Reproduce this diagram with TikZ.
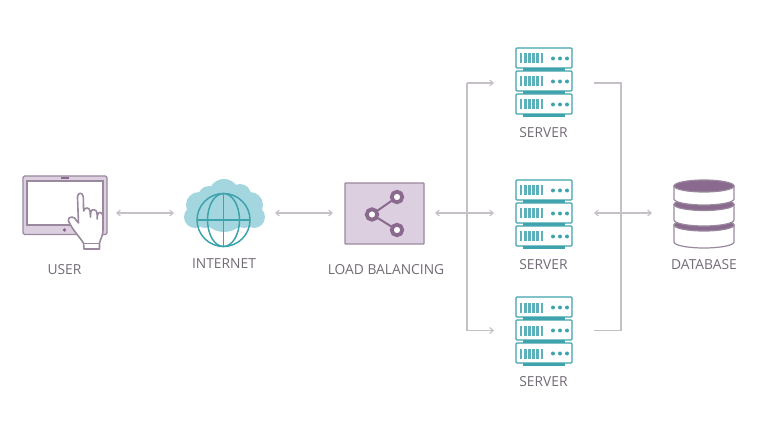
\documentclass[tikz,border=0pt]{standalone}
\usepackage{fontspec}
\setmainfont{Open Sans}
\usetikzlibrary{arrows.meta}
\definecolor{mauve}{HTML}{8A6A8E}
\definecolor{mauvelight}{HTML}{DCCFDF}
\definecolor{mauveline}{HTML}{9A899E}
\definecolor{tealdark}{HTML}{3FA3AE}
\definecolor{teallight}{HTML}{A3D6DE}
\definecolor{wire}{HTML}{C4C0C6}
\definecolor{labelgrey}{HTML}{736B76}
\tikzset{
  x=1pt,y=-1pt,
  caption/.style={font=\fontsize{13.8}{16}\selectfont,text=labelgrey,inner sep=0pt,anchor=center},
  wirepath/.style={draw=wire,line width=1.1pt},
  both/.style={wirepath,{Straight Barb[length=3.5pt,width=6pt]}-{Straight Barb[length=3.5pt,width=6pt]}},
  toward/.style={wirepath,-{Straight Barb[length=3.5pt,width=6pt]}},
  rack/.style={draw=tealdark,line width=1.3pt,rounded corners=1pt,fill=white},
  rackbar/.style={fill=tealdark,draw=none},
  disk/.style={draw=mauveline,line width=1.2pt,fill=white},
  diskcap/.style={draw=mauveline,line width=1.2pt,fill=mauve},
  hub/.style={circle,draw=mauve,line width=3.8pt,fill=white,minimum size=10.5pt,inner sep=0pt},
  pics/serverunit/.style={code={
    \draw[rack] (0,0) rectangle (56,20);
    \fill[rackbar] (7,20) rectangle (49,23);
    \foreach \sx in {3.5,7.7,11.9,16.1,20.3,24.5}
      \fill[tealdark!85] (\sx,5.5) rectangle ++(2.8,10);
    \foreach \dx in {37,44,51}
      \fill[tealdark] (\dx,10.5) circle (2);
  }},
  pics/serverstack/.style={code={
    \pic at (0,0) {serverunit};
    \pic at (0,23) {serverunit};
    \pic at (0,46) {serverunit};
  }},
  pics/dbdisk/.style={code={
    \path[disk] (-30,0) -- (-30,#1) arc[start angle=180,end angle=0,x radius=30,y radius=6] -- (30,0) -- cycle;
    \path[diskcap] (0,0) ellipse[x radius=30,y radius=6];
  }}
}
\begin{document}
\begin{tikzpicture}
\useasboundingbox (0,0) rectangle (780,433);
\fill[white] (0,0) rectangle (780,433);

% Tablet
\draw[draw=mauveline,fill=mauvelight,line width=1.2pt,rounded corners=1.5pt] (23,176) rectangle (107,234.5);
\draw[draw=mauveline,fill=white,line width=1.2pt] (27,181) rectangle (103,225);
\fill[mauve] (60.5,177.5) rectangle (68.5,179);
\fill[mauve] (64.5,230) circle (1.9);

% Pointing hand
\draw[draw=mauveline,fill=white,line width=1.6pt,line join=round]
  (84,249) -- (83.5,243)
  .. controls (78,235) and (72,229) .. (68.5,221)
  .. controls (67.5,217.5) and (71.5,216) .. (74.5,218)
  -- (78.5,223) -- (77.5,197)
  .. controls (77.5,192) and (83,192) .. (83.3,197)
  -- (83.6,211)
  .. controls (84.5,207) and (89.5,207) .. (90,211)
  -- (90.5,217) -- (90.8,212)
  .. controls (91.5,208.5) and (96.5,209) .. (97,213)
  -- (97.2,219) -- (97.5,215)
  .. controls (98,211) and (102.5,212) .. (103,216)
  -- (103,230)
  .. controls (103,236) and (100,240) .. (99.5,243)
  -- (99.5,249) -- cycle;
\draw[mauveline,line width=1.3pt] (84,243.5) -- (99.5,243.5);

% Cloud behind the globe
\fill[teallight]
  (224,194) circle (15) (209,197) circle (11) (240,195) circle (11)
  (199,205) circle (13) (250,205) circle (13)
  (195,217) circle (11) (254,217) circle (11)
  (224,208) circle (24) (205,218) circle (10) (244,218) circle (10);

% Globe
\draw[tealdark,line width=1.5pt] (223.5,220) circle (26.5);
\draw[tealdark,line width=1.5pt] (223.5,220) ellipse[x radius=16,y radius=26.5];
\draw[tealdark,line width=1.5pt] (197,220) -- (250,220) (223.5,193.5) -- (223.5,246.5);

% Load balancer
\node[draw=mauveline,fill=mauvelight,line width=1.3pt,rounded corners=0.5pt,minimum width=79pt,minimum height=61pt,inner sep=0pt] (lb) at (384.5,213.5) {};
\draw[mauve,line width=2pt] (372,214.5) -- (397,197) (372,214.5) -- (397,230);
\node[hub] (hubL) at (372,214.5) {};
\node[hub] (hubT) at (397,197) {};
\node[hub] (hubB) at (397,230) {};

% Server racks
\pic at (516,48) {serverstack};
\pic at (516,180) {serverstack};
\pic at (516,297) {serverstack};

% Database
\pic at (704,225) {dbdisk={17}};
\pic at (704,204.5) {dbdisk={15.5}};
\pic at (704,186) {dbdisk={13}};

% Captions
\node[caption] (userlabel) at (64.5,269.5) {USER};
\node[caption] (netlabel) at (224,263.5) {INTERNET};
\node[caption] (lblabel) at (386,269.5) {LOAD BALANCING};
\node[caption] (srvlabelA) at (543.5,132.5) {SERVER};
\node[caption] (srvlabelB) at (543.5,264.5) {SERVER};
\node[caption] (srvlabelC) at (543.5,381.5) {SERVER};
\node[caption] (dblabel) at (704,264.5) {DATABASE};

% Connector end points
\coordinate (userE) at (116,213);
\coordinate (netW) at (174,213);
\coordinate (netE) at (275,213);
\coordinate (lbW) at (333,213);
\coordinate (lbE) at (435,213);
\coordinate (srvBW) at (494,213);
\coordinate (srvAW) at (494,83);
\coordinate (srvCW) at (494,330.5);
\coordinate (splitA) at (467,83);
\coordinate (splitC) at (467,330.5);
\coordinate (srvBE) at (594,213);
\coordinate (dbW) at (652,213);
\coordinate (srvAE) at (594,83);
\coordinate (srvCE) at (594,330.5);
\coordinate (joinA) at (621,83);
\coordinate (joinC) at (621,330.5);

% Connectors
\draw[both] (userE) -- (netW);
\draw[both] (netE) -- (lbW);
\draw[both] (lbE) -- (srvBW);
\draw[both] (srvBE) -- (dbW);
\draw[toward] (splitC) -- (srvCW);
\draw[toward] (splitA) -- (srvAW);
\draw[wirepath] (splitA) -- (splitC);
\draw[wirepath] (srvAE) -- (joinA) -- (joinC) -- (srvCE);
\end{tikzpicture}
\end{document}
